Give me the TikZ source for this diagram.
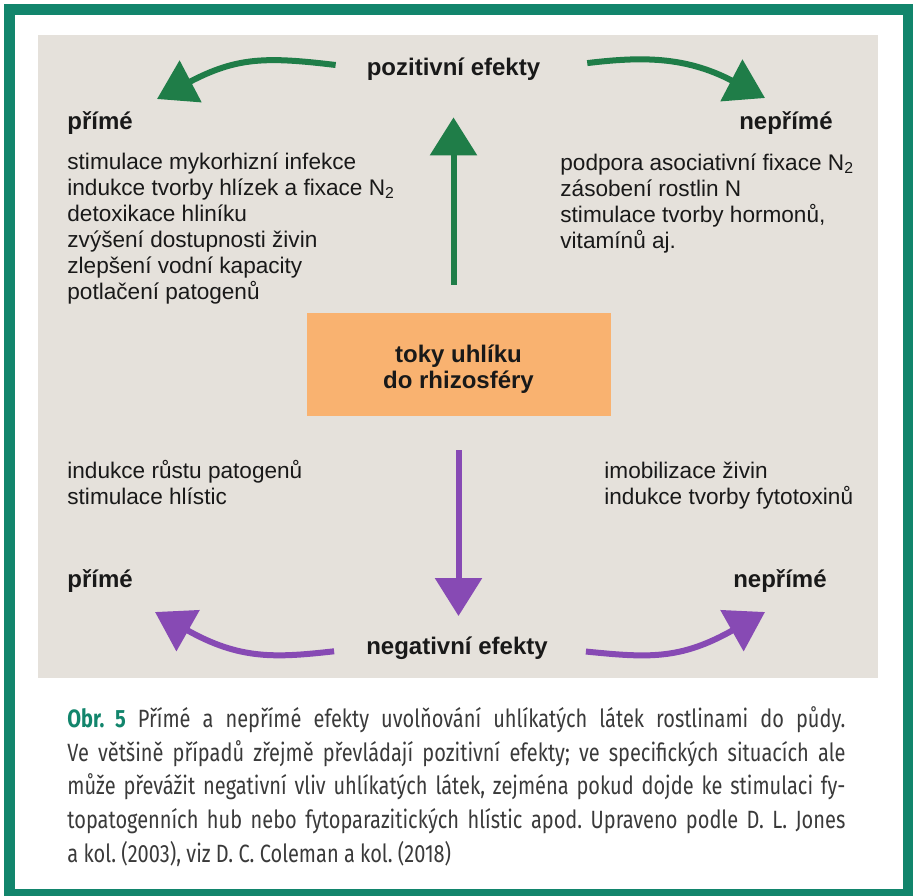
\documentclass[tikz,border=0pt]{standalone}
\usepackage{fontspec}
\setmainfont{Liberation Sans}
\newfontfamily\capfont[FakeStretch=0.8]{Fira Sans}
\usetikzlibrary{arrows.meta,positioning}

\definecolor{rimgreen}{RGB}{18,133,108}
\definecolor{panelgray}{RGB}{229,225,219}
\definecolor{fluxorange}{RGB}{249,178,112}
\definecolor{posgreen}{RGB}{31,125,72}
\definecolor{negviolet}{RGB}{135,74,180}
\definecolor{captext}{RGB}{58,58,58}

\begin{document}
\begin{tikzpicture}[x=0.5pt, y=-0.5pt,
    every node/.style={inner sep=0pt, text=black!90},
    head/.style={font=\fontsize{12}{13}\selectfont\bfseries},
    list/.style={font=\fontsize{11.3}{13}\selectfont, align=left, anchor=base west},
    posarrow/.style={draw=posgreen, line width=3pt, -{Triangle[length=19pt, width=23pt]}},
    negarrow/.style={draw=negviolet, line width=3pt, -{Triangle[length=19pt, width=23pt]}}]
  \useasboundingbox (0,0) rectangle (913,895);
  \clip (0,0) rectangle (913,895);

  % frame and panel
  \draw[rimgreen, line width=5.5pt] (9.5,9.5) rectangle (908.5,894.5);
  \fill[panelgray] (38,35) rectangle (878,678);

  % centre box
  \node[fill=fluxorange, minimum width=152pt, minimum height=51.5pt,
        align=center, font=\fontsize{12}{13}\selectfont\bfseries] (Flux) at (458.5,364.5)
        {\rule{0pt}{13pt}toky uhlíku\\do rhizosféry};

  % headings
  \node[head, anchor=base] (Pos) at (453.5,75) {pozitivní efekty};
  \node[head, anchor=base] (Neg) at (457,654) {negativní efekty};
  \node[head, anchor=base west] (DirPos) at (67,129) {přímé};
  \node[head, anchor=base east] (IndPos) at (833,129) {nepřímé};
  \node[head, anchor=base west] (DirNeg) at (67,587) {přímé};
  \node[head, anchor=base east] (IndNeg) at (827,587) {nepřímé};

  % effect lists (base = last line)
  \node[list] (DirPosList) at (67,299) {stimulace mykorhizní infekce\\
    indukce tvorby hlízek a fixace N\textsubscript{2}\\
    detoxikace hliníku\\
    zvýšení dostupnosti živin\\
    zlepšení vodní kapacity\\
    potlačení patogenů};
  \node[list] (IndPosList) at (560,248) {podpora asociativní fixace N\textsubscript{2}\\
    zásobení rostlin N\\
    stimulace tvorby hormonů,\\
    vitamínů aj.};
  \node[list] (DirNegList) at (67,504) {indukce růstu patogenů\\
    stimulace hlístic};
  \node[list] (IndNegList) at (604,504) {imobilizace živin\\
    indukce tvorby fytotoxinů};

  % arrow tips
  \coordinate (PosTipL) at (157,99);
  \coordinate (PosTipR) at (765,98);
  \coordinate (NegTipL) at (155,612);
  \coordinate (NegTipR) at (765,612);

  \draw[posarrow, shorten <=14pt, shorten >=18.5pt] (Flux.north -| Pos.south) -- (Pos.south);
  \draw[posarrow, shorten <=15.5pt] (Pos.west) .. controls +(-100,-12) and +(80,-42) .. (PosTipL);
  \draw[posarrow, shorten <=23.5pt] (Pos.east) .. controls +(100,-12) and +(-80,-42) .. (PosTipR);

  \draw[negarrow, shorten <=17pt, shorten >=10pt] (Flux.south) -- (Flux.south |- Neg.north);
  \draw[negarrow, shorten <=16pt] (Neg.west) .. controls +(-90,10) and +(85,48) .. (NegTipL);
  \draw[negarrow, shorten <=19pt] (Neg.east) .. controls +(100,10) and +(-85,48) .. (NegTipR);

  % caption
  \node[anchor=north west, text width=389pt, align=justify, text=captext,
        font=\capfont\fontsize{12.5}{16.9}\selectfont] (Caption) at (67,706)
    {\frenchspacing\hyphenpenalty=10000\tolerance=9999
     \textcolor{rimgreen}{\textbf{Obr. 5}} Přímé a nepřímé efekty uvolňování uhlíkatých látek rostlinami do půdy.\linebreak
     Ve většině případů zřejmě převládají pozitivní efekty; ve specifických situacích ale\linebreak
     může převážit negativní vliv uhlíkatých látek, zejména pokud dojde ke stimulaci fy-\linebreak
     topatogenních hub nebo fytoparazitických hlístic apod. Upraveno podle D.~L. Jones\linebreak
     a kol. (2003), viz D.~C. Coleman a kol. (2018)};
\end{tikzpicture}
\end{document}
